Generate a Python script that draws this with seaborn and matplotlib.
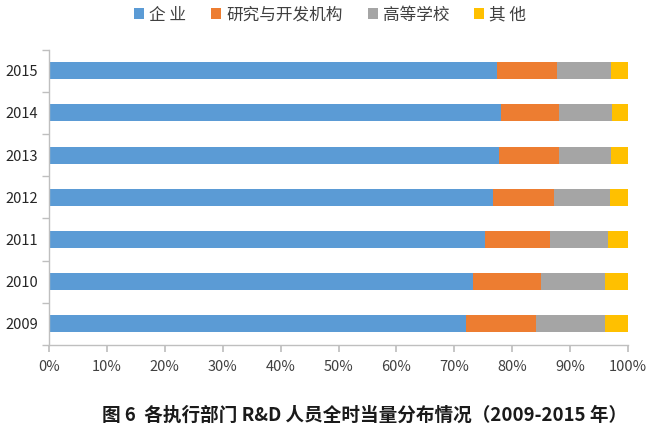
import matplotlib
matplotlib.use("Agg")
import matplotlib.pyplot as plt
import seaborn as sns
import pandas as pd
import numpy as np
from matplotlib.patches import Patch
from matplotlib.ticker import FuncFormatter

years = ["2015", "2014", "2013", "2012", "2011", "2010", "2009"]
enterprise = [77.4, 78.0, 77.7, 76.6, 75.3, 73.3, 72.0]
research = [10.4, 10.1, 10.3, 10.7, 11.2, 11.6, 12.1]
university = [9.2, 9.1, 9.1, 9.6, 10.1, 11.2, 11.9]
other = [3.0, 2.8, 2.9, 3.1, 3.4, 3.9, 4.0]
series_names = ["企 业", "研究与开发机构", "高等学校", "其 他"]
colors = ["#5B9BD5", "#ED7D31", "#A5A5A5", "#FFC000"]
xticks = [0, 10, 20, 30, 40, 50, 60, 70, 80, 90, 100]
title = "图 6  各执行部门 R&D 人员全时当量分布情况（2009-2015 年）"

sns.set_theme(style="white")
plt.rcParams["font.family"] = ["Noto Sans CJK SC", "DejaVu Sans"]

df = pd.DataFrame({"year": years, "enterprise": enterprise, "research": research,
                   "university": university, "other": other})
cols = ["enterprise", "research", "university", "other"]
cum = df[cols].cumsum(axis=1)

fig = plt.figure(figsize=(6.5, 4.32), dpi=100)
ax = fig.add_axes([49 / 650, 1 - 345 / 432, (628 - 49) / 650, (345 - 49.6) / 432])

for i in range(len(cols) - 1, -1, -1):
    sns.barplot(x=cum[cols[i]].values, y=df["year"], order=years, orient="h",
                color=colors[i], saturation=1, width=0.4, ax=ax, linewidth=0)

ax.set_xlim(0, 100)
ax.set_ylim(len(years) - 0.5, -0.5)
ax.set_xticks(xticks)
ax.xaxis.set_major_formatter(FuncFormatter(lambda v, p: f"{int(v)}%"))
ax.set_yticks(np.arange(len(years)))
ax.set_yticklabels(years)
ax.set_yticks(np.arange(len(years) + 1) - 0.5, minor=True)
ax.set_xlabel("")
ax.set_ylabel("")
for s in ["top", "right"]:
    ax.spines[s].set_visible(False)
for s in ["left", "bottom"]:
    ax.spines[s].set_color("#BFBFBF")
    ax.spines[s].set_linewidth(1)
ax.tick_params(axis="x", which="major", direction="out", length=5, color="#BFBFBF",
               labelsize=10.5, labelcolor="#404040", pad=6, bottom=True)
ax.tick_params(axis="y", which="major", length=0, labelsize=10.5, labelcolor="#262626", pad=8)
ax.tick_params(axis="y", which="minor", direction="out", length=5, color="#BFBFBF", left=True)
ax.grid(False)

handles = [Patch(facecolor=c, edgecolor="none") for c in colors]
fig.legend(handles, series_names, loc="center", bbox_to_anchor=(0.508, 0.965), ncol=4,
           frameon=False, fontsize=12, handlelength=0.6, handleheight=0.6,
           handletextpad=0.3, columnspacing=1.5, labelcolor="#404040")

fig.text(0.5615, 0.038, title, ha="center", va="center", fontsize=13.4, fontweight="bold",
         color="#1a1a1a")

fig.savefig("out.png", dpi=100)
